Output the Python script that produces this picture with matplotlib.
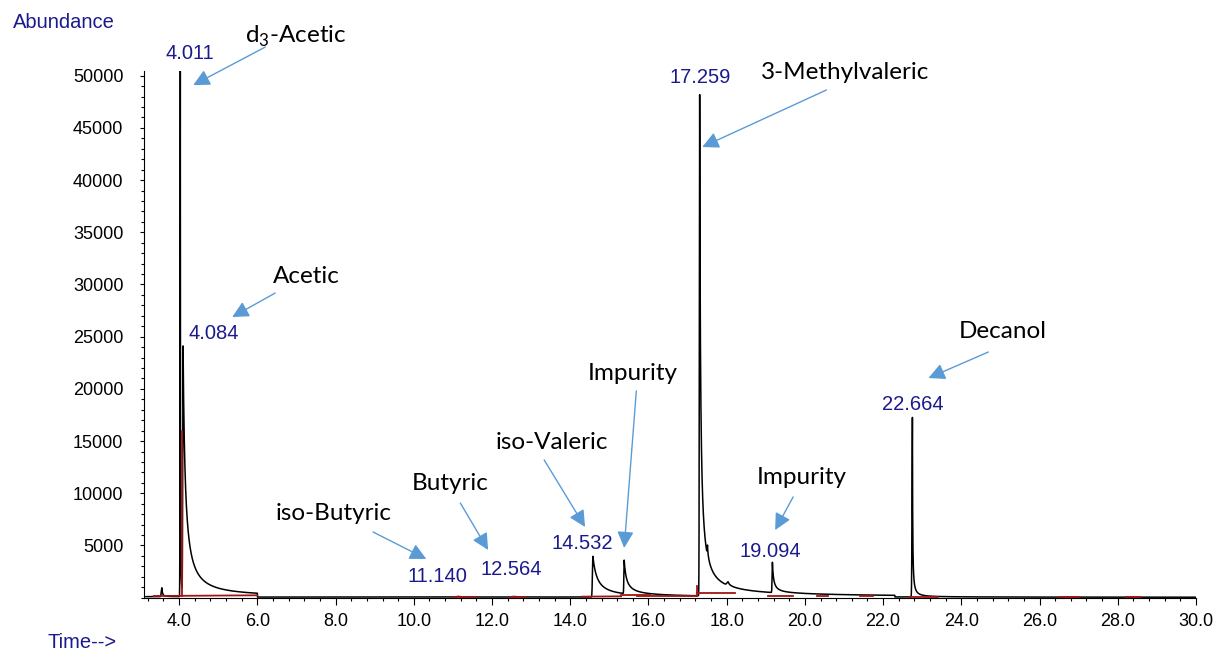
import numpy as np
import matplotlib
matplotlib.use("Agg")
import matplotlib.pyplot as plt
from matplotlib.ticker import MultipleLocator, FixedLocator

plt.rcParams['font.family'] = ['Liberation Sans', 'DejaVu Sans']
plt.rcParams['mathtext.fontset'] = 'custom'
plt.rcParams['mathtext.rm'] = 'Lato'

# peak table (time in min, abundance)
peak_t    = [3.56, 4.03, 4.10, 11.14, 12.56, 14.58, 15.38, 17.31, 17.51, 18.04, 19.17, 22.75]
peak_h    = [850, 50450, 23700, 60, 60, 3900, 3200, 48000, 1000, 350, 2900, 17200]
peak_sig  = [0.015, 0.006, 0.008, 0.05, 0.05, 0.012, 0.008, 0.008, 0.008, 0.03, 0.008, 0.01]
peak_tau  = [0.02, 0.006, 0.073, 0.1, 0.1, 0.143, 0.074, 0.0225, 0.02, 0.05, 0.039, 0.008]
peak_pow  = [1.5, 2.0, 1.3, 1.3, 1.3, 1.3, 1.3, 1.1, 1.5, 1.5, 1.3, 1.3]
peak_end  = [3.9, 6.0, 6.0, 30, 30, 30, 30, 22.3, 30, 30, 30, 30]

# baseline level per acquisition segment
base_start = [3.15, 6.0, 22.3]
base_level = [100, 60, 30]

# red integration baselines (t0, y0, t1, y1)
red_segs = [(3.35, 160, 6.0, 230), (4.08, 160, 4.08, 16000),
            (11.0, 80, 11.6, 80), (12.45, 60, 12.85, 60),
            (14.3, 100, 15.3, 130), (15.3, 250, 16.05, 250), (15.7, 200, 17.25, 200),
            (17.25, 200, 17.25, 1150), (17.25, 420, 18.22, 420),
            (19.05, 170, 19.7, 170), (20.3, 150, 20.6, 150), (21.4, 200, 21.75, 200),
            (22.65, 30, 23.4, 30), (26.5, 40, 27.0, 40), (28.2, 40, 28.6, 40)]

# retention time labels
rt_text = ['4.011', '4.084', '17.259', '14.532', '11.140', '12.564', '19.094', '22.664']
rt_x = [4.28, 4.895, 17.325, 14.307, 10.598, 12.49, 19.115, 22.77]
rt_y = [52160, 25260, 49780, 5144, 1983, 2653, 4378, 18460]

# compound names and arrows
names = [r'd$_\mathrm{3}$-Acetic', 'Acetic', '3-Methylvaleric', 'Impurity', 'iso-Valeric',
         'Butyric', 'iso-Butyric', 'Impurity', 'Decanol']
name_x = [6.99, 7.25, 21.03, 15.59, 13.54, 10.93, 7.96, 19.91, 25.07]
name_y = [53800, 30800, 50260, 21430, 14910, 10890, 8018, 11560, 25540]
arrow_from = [(6.20, 52740), (6.455, 29180), (20.55, 48630), (15.69, 19800), (13.335, 13190),
              (11.19, 9070), (8.96, 6290), (19.70, 9650), (24.69, 23530)]
arrow_to = [(4.36, 49100), (5.356, 26880), (17.376, 43170), (15.38, 4760), (14.38, 6770),
            (11.90, 4570), (10.32, 3710), (19.24, 6480), (23.16, 21040)]

t = np.arange(3.15, 30.0, 0.001)
sig = np.zeros_like(t)
for i in range(len(base_start)):
    sig[t >= base_start[i]] = base_level[i]
for t0, h, s, tau, p, end in zip(peak_t, peak_h, peak_sig, peak_tau, peak_pow, peak_end):
    dt = t - t0
    rise = h * np.exp(-0.5 * (dt / s) ** 2)
    fall = h * (1 + np.clip(dt, 0, None) / tau) ** (-p)
    y = np.where(dt < 0, rise, fall)
    y[t > end] = 0
    sig += y

fig = plt.figure(figsize=(12.19, 6.52), dpi=100)
ax = fig.add_axes([0.1184, 0.0833, 0.8627, 0.8078])

ax.plot(t, sig, color='black', lw=1.1)
for x0, y0, x1, y1 in red_segs:
    ax.plot([x0, x1], [y0, y1], color='#a31515', lw=1.3)

ax.set_xlim(3.11, 30.0)
ax.set_ylim(0, 50450)
ax.spines['top'].set_visible(False)
ax.spines['right'].set_visible(False)
ax.xaxis.set_major_locator(MultipleLocator(2.0))
ax.xaxis.set_minor_locator(MultipleLocator(0.4))
ax.xaxis.set_major_formatter(matplotlib.ticker.FormatStrFormatter('%.1f'))
ax.yaxis.set_major_locator(FixedLocator(np.arange(5000, 50001, 5000)))
ax.yaxis.set_minor_locator(MultipleLocator(1000))
ax.tick_params(axis='x', which='major', length=5, width=0.8, labelsize=13, pad=6)
ax.tick_params(axis='x', which='minor', length=2.2, width=0.8)
ax.tick_params(axis='y', which='major', length=3, width=0.8, labelsize=13, pad=12)
ax.tick_params(axis='y', which='minor', length=2, width=0.8)

navy = '#1a1a8e'
for s, x, y in zip(rt_text, rt_x, rt_y):
    ax.text(x, y, s, color=navy, fontsize=14.5, ha='center', va='center', clip_on=False)

for s, x, y in zip(names, name_x, name_y):
    ax.text(x, y, s, family='Lato', fontsize=17.5, ha='center', va='center', clip_on=False)

for a, b in zip(arrow_from, arrow_to):
    ax.annotate('', xy=b, xytext=a, annotation_clip=False,
                arrowprops=dict(arrowstyle='-|>,head_length=0.5,head_width=0.25',
                                color='#5b9bd5', lw=1.0, mutation_scale=20,
                                shrinkA=0, shrinkB=0))

fig.text(13 / 1219, 1 - 22 / 652, 'Abundance', color=navy, fontsize=14.5, va='center')
fig.text(48 / 1219, 1 - 642 / 652, 'Time-->', color=navy, fontsize=14.5, va='center')

fig.savefig('out.png', dpi=100)
